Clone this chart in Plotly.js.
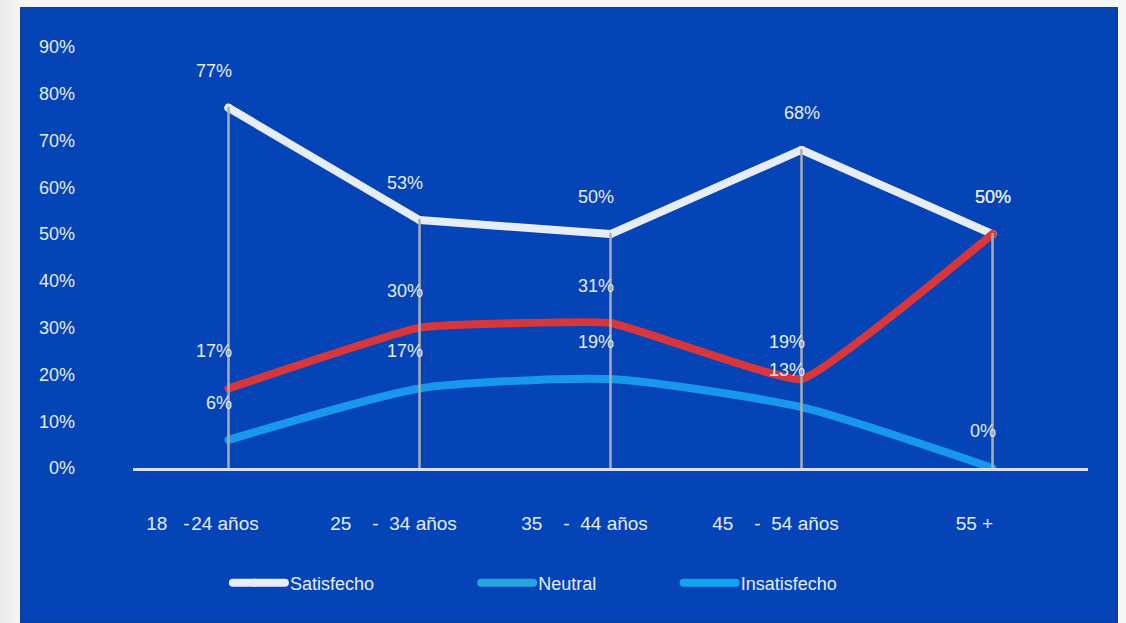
<!DOCTYPE html>
<html>
<head>
<meta charset="utf-8">
<script src="https://cdn.plot.ly/plotly-3.0.1.min.js"></script>
<style>
  html, body { margin: 0; padding: 0; width: 1126px; height: 623px; overflow: hidden;
    background: linear-gradient(90deg, #e9eaec 0px, #f6f6f7 20px, #f6f6f7 100%); }
  #panel { position: absolute; left: 20px; top: 7px; width: 1098px; height: 616px;
    background: #0444b6; box-shadow: inset 0 0 0 2px #0a3fa6; }
  #chart { width: 1098px; height: 616px; }
  /* thicker, rounded legend keys and rounded line ends */
  #chart .legendlines path { stroke-width: 8px !important; stroke-linecap: round;
    stroke-dasharray: 52 1000; stroke-dashoffset: -8; }
  #chart .scatterlayer .js-line { stroke-linecap: round; stroke-linejoin: round; }
</style>
</head>
<body>
<div id="panel"><div id="chart"></div></div>
<script>
// Satisfaction by age group (percent of respondents)
const NB = '\u00a0';
const ageGroups = [
  '18' + NB + NB + NB + '-\u200a24 años',
  '25' + NB + NB + NB + NB + '-' + NB + NB + '34 años',
  '35' + NB + NB + NB + NB + '-' + NB + NB + '44 años',
  '45' + NB + NB + NB + NB + '-' + NB + NB + '54 años',
  NB + NB + NB + '55 +'
];
const satisfecho   = [77, 53, 50, 68, 50];
const neutral      = [17, 30, 31, 19, 50];
const insatisfecho = [6, 17, 19, 13, 0];
const yTicks = [0, 10, 20, 30, 40, 50, 60, 70, 80, 90];

const textColor = '#e4ebf5';
const fontFamily = '"Liberation Sans", Arial, sans-serif';

// vertical drop lines from each "Satisfecho" point down to the baseline
const dropX = [], dropY = [];
ageGroups.forEach((g, i) => { dropX.push(g, g, null); dropY.push(0, satisfecho[i], null); });

const traces = [
  {
    x: ageGroups, y: satisfecho, name: 'Satisfecho', type: 'scatter', mode: 'lines+markers',
    line: { color: '#e6edf6', width: 8 }, marker: { color: '#e6edf6', size: 8 },
    cliponaxis: false, legend: 'legend', hoverinfo: 'skip'
  },
  {
    x: ageGroups, y: insatisfecho, name: 'Insatisfecho', type: 'scatter', mode: 'lines',
    line: { color: '#1797ee', width: 8, shape: 'spline', smoothing: 0.6 },
    cliponaxis: false, legend: 'legend3', showlegend: false, legendgroup: 'ins', hoverinfo: 'skip'
  },
  {
    x: ageGroups, y: neutral, name: 'Neutral', type: 'scatter', mode: 'lines',
    line: { color: '#d9363c', width: 8, shape: 'spline', smoothing: 0.3 },
    cliponaxis: false, showlegend: false, legendgroup: 'neu', hoverinfo: 'skip'
  },
  {
    x: dropX, y: dropY, type: 'scatter', mode: 'lines', showlegend: false,
    line: { color: '#a9acb2', width: 2.5 }, cliponaxis: false, hoverinfo: 'skip'
  },
  // legend keys
  {
    x: [null], y: [null], name: 'Neutral', type: 'scatter', mode: 'lines',
    line: { color: '#2aa4df', width: 8 }, legend: 'legend2', legendgroup: 'neu'
  },
  {
    x: [null], y: [null], name: 'Insatisfecho', type: 'scatter', mode: 'lines',
    line: { color: '#14a3f1', width: 8 }, legend: 'legend3', legendgroup: 'ins'
  }
];

// value labels above each point
const labelFont = { family: fontFamily, size: 18, color: textColor };
function valueLabels(values, anchors) {
  return values.map((v, i) => ({
    x: ageGroups[i], y: v, text: v + '%', showarrow: false,
    xanchor: anchors[i], xshift: anchors[i] === 'right' ? 5 : 0,
    yanchor: 'middle', yshift: 37, font: labelFont
  }));
}
const annotations = [].concat(
  valueLabels(satisfecho,   ['right', 'right', 'right', 'center', 'center']),
  valueLabels(neutral,      ['right', 'right', 'right', 'right', 'center']),
  valueLabels(insatisfecho, ['right', 'right', 'right', 'right', 'right'])
);

const legendBase = {
  orientation: 'h', yanchor: 'middle', y: -0.273, xanchor: 'left',
  bgcolor: 'rgba(0,0,0,0)', borderwidth: 0, itemwidth: 60,
  font: { family: fontFamily, size: 18, color: textColor }, itemclick: false, itemdoubleclick: false
};

const layout = {
  width: 1098, height: 616,
  margin: { l: 113, r: 30, t: 40, b: 155 },
  paper_bgcolor: 'rgba(0,0,0,0)',
  plot_bgcolor: 'rgba(0,0,0,0)',
  font: { family: fontFamily, color: textColor },
  showlegend: true,
  xaxis: {
    type: 'category', range: [-0.5, 4.5], fixedrange: true,
    showgrid: false, zeroline: false, showline: true, linecolor: '#d5deec', linewidth: 3,
    ticks: '', ticklabelstandoff: 36, ticklabelshift: -26,
    tickfont: { family: fontFamily, size: 19, color: textColor }
  },
  yaxis: {
    range: [0, 90], fixedrange: true, showgrid: false, zeroline: false, showline: false,
    tickvals: yTicks, ticktext: yTicks.map(v => v + '%'), ticks: '',
    ticklabelstandoff: 57,
    tickfont: { family: fontFamily, size: 18, color: textColor }
  },
  legend:  Object.assign({}, legendBase, { x: 0.091 }),
  legend2: Object.assign({}, legendBase, { x: 0.351 }),
  legend3: Object.assign({}, legendBase, { x: 0.563 }),
  annotations: annotations
};

Plotly.newPlot('chart', traces, layout, { staticPlot: true, displayModeBar: false });
</script>
</body>
</html>
